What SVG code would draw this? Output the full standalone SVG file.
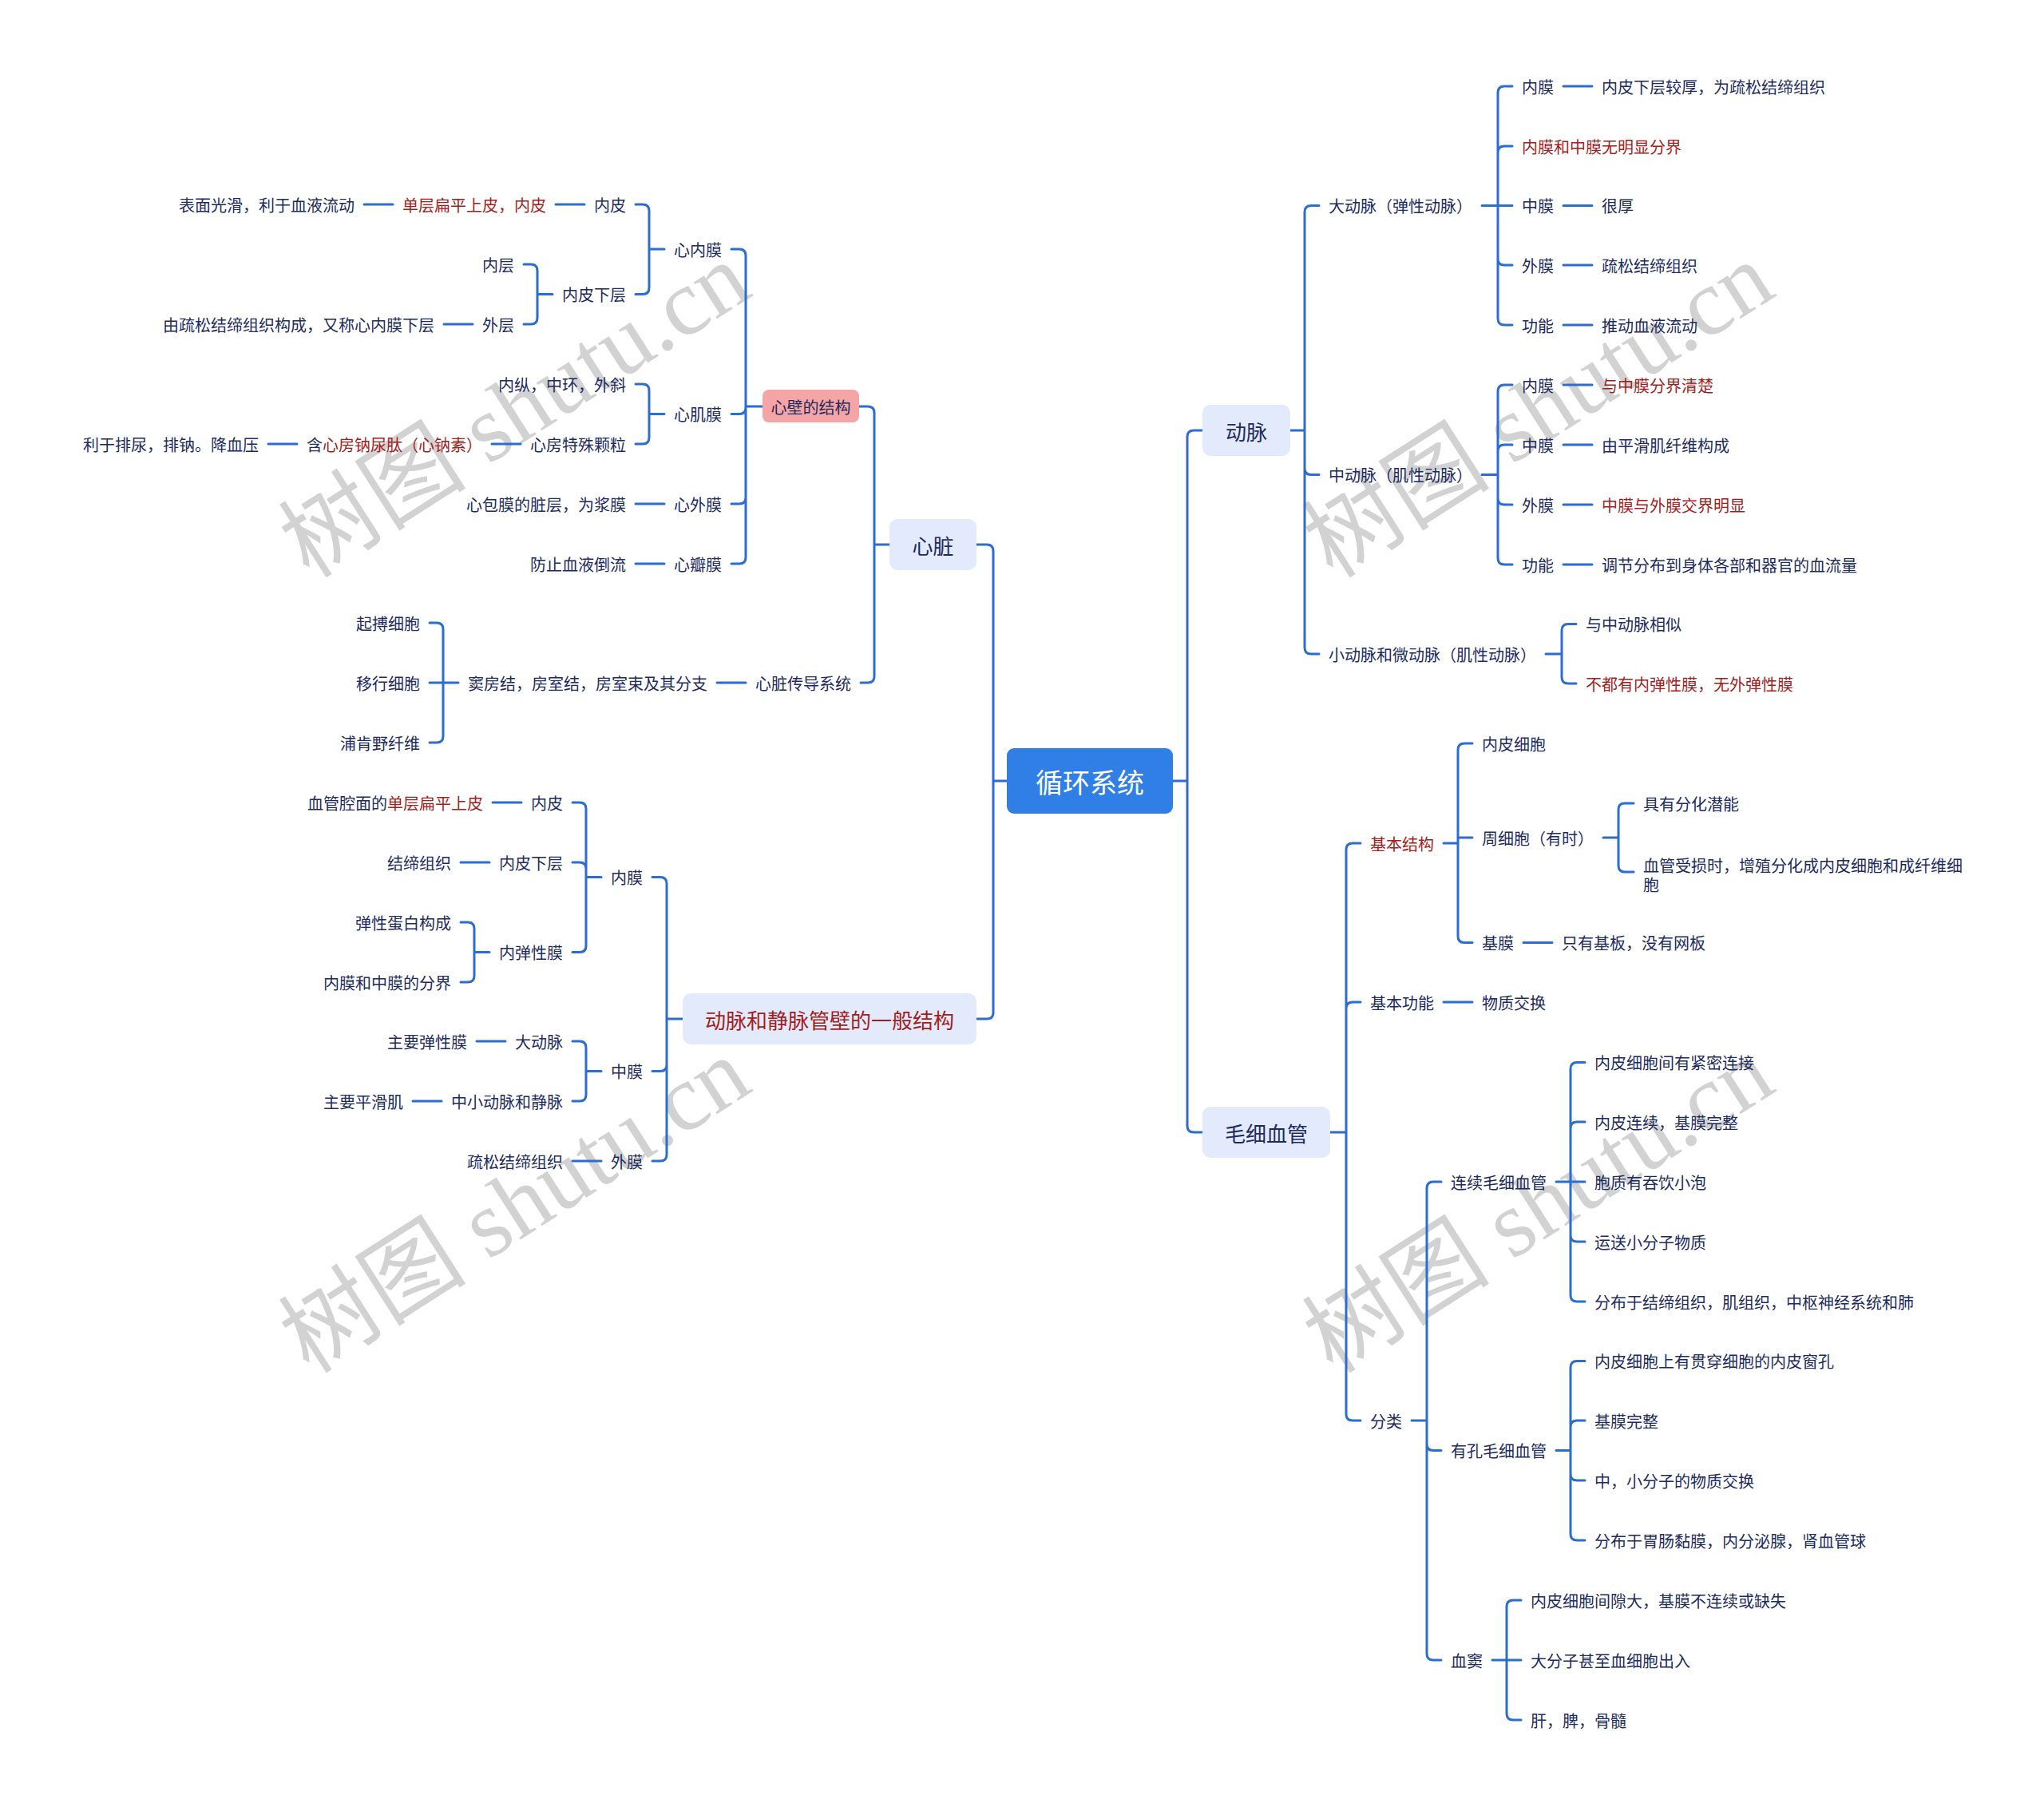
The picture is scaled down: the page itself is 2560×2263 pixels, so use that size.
<svg xmlns="http://www.w3.org/2000/svg" width="2560" height="2263" viewBox="0 0 2560 2263">
<style>
text{font-family:"Noto Sans CJK SC","Noto Sans",sans-serif;dominant-baseline:central}
.t{font-size:20px;fill:#1d2b5e}
.r{fill:#a31d1d}
.e{text-anchor:end}
.l1{font-size:26px;fill:#1d2b5e;text-anchor:middle}
.l1box{fill:#e2eafb}
.wm{font-family:"Liberation Serif","Noto Sans CJK SC",serif;font-size:118px;fill:#d2d2d2;text-anchor:middle}
.c path{fill:none;stroke:#2b6dd0;stroke-width:3;stroke-linecap:round}
</style>
<rect width="2560" height="2263" fill="#ffffff"/>
<g id="watermark">
<text class="wm" transform="translate(645,514) rotate(-32.6)">树图 shutu.cn</text>
<text class="wm" transform="translate(645,1510) rotate(-32.6)">树图 shutu.cn</text>
<text class="wm" transform="translate(1927,514) rotate(-32.6)">树图 shutu.cn</text>
<text class="wm" transform="translate(1927,1510) rotate(-32.6)">树图 shutu.cn</text>
</g>
<g id="connectors" class="c">
<path d="M1261,978 H1244 M1244,978 V690 Q1244,682 1236,682 H1223 M1244,978 V1268 Q1244,1276 1236,1276 H1223"/>
<path d="M1469,978 H1487 M1487,978 V547 Q1487,539 1495,539 H1506 M1487,978 V1410 Q1487,1418 1495,1418 H1506"/>
<path d="M1114,682 H1095 M1095,682 V517 Q1095,509 1087,509 H1076 M1095,682 V847 Q1095,855 1087,855 H1078"/>
<path d="M955,509 H934 M934,509 V320 Q934,312 926,312 H916 M934,509 V510.5 Q934,518.5 926,518.5 H916 M934,509 V623 Q934,631 926,631 H916 M934,509 V698 Q934,706 926,706 H916"/>
<path d="M832,312 H813 M813,312 V264 Q813,256 805,256 H796 M813,312 V360.5 Q813,368.5 805,368.5 H796"/>
<path d="M696,256 H732 M456,256 H492"/>
<path d="M692,368.5 H673 M673,368.5 V339 Q673,331 665,331 H656 M673,368.5 V398 Q673,406 665,406 H656 M556,406 H592"/>
<path d="M832,518.5 H813 M813,518.5 V489 Q813,481 805,481 H796 M813,518.5 V548 Q813,556 805,556 H796 M616,556 H652 M336,556 H372"/>
<path d="M796,631 H832 M796,706 H832 M898,855 H934"/>
<path d="M574,855 H538 M555,855 V788 Q555,780 547,780 H538 M555,855 V922 Q555,930 547,930 H538"/>
<path d="M855,1276 H835 M835,1276 V1106.5 Q835,1098.5 827,1098.5 H817 M835,1276 V1333.5 Q835,1341.5 827,1341.5 H817 M835,1276 V1446 Q835,1454 827,1454 H817"/>
<path d="M753,1098.5 H734 M734,1098.5 V1013 Q734,1005 726,1005 H717 M734,1098.5 V1088 Q734,1080 726,1080 H717 M734,1098.5 V1184.5 Q734,1192.5 726,1192.5 H717"/>
<path d="M617,1005 H653 M577,1080 H613"/>
<path d="M613,1192.5 H594 M594,1192.5 V1163 Q594,1155 586,1155 H577 M594,1192.5 V1222 Q594,1230 586,1230 H577"/>
<path d="M753,1341.5 H734 M734,1341.5 V1312 Q734,1304 726,1304 H717 M734,1341.5 V1371 Q734,1379 726,1379 H717 M597,1304 H633 M517,1379 H553 M717,1454 H753"/>
<path d="M1616,539 H1634 M1634,539 V265.5 Q1634,257.5 1642,257.5 H1652 M1634,539 V586.5 Q1634,594.5 1642,594.5 H1652 M1634,539 V811 Q1634,819 1642,819 H1652"/>
<path d="M1856,257.5 H1894 M1876,257.5 V116 Q1876,108 1884,108 H1894 M1876,257.5 V191 Q1876,183 1884,183 H1894 M1876,257.5 V324 Q1876,332 1884,332 H1894 M1876,257.5 V399 Q1876,407 1884,407 H1894"/>
<path d="M1958,108 H1994 M1958,257.5 H1994 M1958,332 H1994 M1958,407 H1994"/>
<path d="M1856,594.5 H1876 M1876,594.5 V490 Q1876,482 1884,482 H1894 M1876,594.5 V565 Q1876,557 1884,557 H1894 M1876,594.5 V624 Q1876,632 1884,632 H1894 M1876,594.5 V699 Q1876,707 1884,707 H1894"/>
<path d="M1958,482 H1994 M1958,557 H1994 M1958,632 H1994 M1958,707 H1994"/>
<path d="M1936,819 H1956 M1956,819 V789.5 Q1956,781.5 1964,781.5 H1974 M1956,819 V848 Q1956,856 1964,856 H1974"/>
<path d="M1666,1418 H1686 M1686,1418 V1064 Q1686,1056 1694,1056 H1704 M1686,1418 V1263 Q1686,1255 1694,1255 H1704 M1686,1418 V1771 Q1686,1779 1694,1779 H1704"/>
<path d="M1808,1056 H1826 M1826,1056 V939 Q1826,931 1834,931 H1844 M1826,1049 H1844 M1826,1056 V1172.5 Q1826,1180.5 1834,1180.5 H1844 M1908,1180.5 H1944"/>
<path d="M2008,1049 H2027 M2027,1049 V1014 Q2027,1006 2035,1006 H2046 M2027,1049 V1084 Q2027,1092 2035,1092 H2046"/>
<path d="M1808,1255 H1844"/>
<path d="M1768,1779 H1787 M1787,1779 V1488 Q1787,1480 1795,1480 H1805 M1787,1779 V1808.5 Q1787,1816.5 1795,1816.5 H1805 M1787,1779 V2071 Q1787,2079 1795,2079 H1805"/>
<path d="M1949,1480 H1985 M1967,1480 V1338.5 Q1967,1330.5 1975,1330.5 H1985 M1967,1480 V1413 Q1967,1405 1975,1405 H1985 M1967,1480 V1547 Q1967,1555 1975,1555 H1985 M1967,1480 V1622 Q1967,1630 1975,1630 H1985"/>
<path d="M1949,1816.5 H1967 M1967,1816.5 V1712.5 Q1967,1704.5 1975,1704.5 H1985 M1967,1816.5 V1787 Q1967,1779 1975,1779 H1985 M1967,1816.5 V1846 Q1967,1854 1975,1854 H1985 M1967,1816.5 V1921 Q1967,1929 1975,1929 H1985"/>
<path d="M1869,2079 H1905 M1887,2079 V2012 Q1887,2004 1895,2004 H1905 M1887,2079 V2146 Q1887,2154 1895,2154 H1905"/>
</g>
<g id="n-root"><rect x="1261" y="937" width="208" height="82" rx="9" fill="#2f7fe6"/><text x="1365" y="978" font-size="34" fill="#ffffff" text-anchor="middle">循环系统</text></g>
<g id="n-heart"><rect class="l1box" x="1114" y="650" width="109" height="64" rx="10"/><text class="l1" x="1168.5" y="682">心脏</text></g>
<g id="n-vessel"><rect class="l1box" x="855" y="1244" width="368" height="64" rx="10"/><text class="l1" x="1039" y="1276" fill="#a31d1d" style="fill:#a31d1d">动脉和静脉管壁的一般结构</text></g>
<g id="n-artery"><rect class="l1box" x="1506" y="507" width="110" height="64" rx="10"/><text class="l1" x="1561" y="539">动脉</text></g>
<g id="n-capillary"><rect class="l1box" x="1506" y="1386" width="160" height="64" rx="10"/><text class="l1" x="1586" y="1418">毛细血管</text></g>
<g id="n-wall"><rect x="955" y="488" width="121" height="41" rx="8" fill="#f5a5a5"/><text class="t" x="1015.5" y="509" text-anchor="middle">心壁的结构</text></g>
<g id="n-conduct"><text class="t e" x="1066" y="855">心脏传导系统</text></g>
<g id="n-endocard"><text class="t e" x="904" y="312">心内膜</text></g>
<g id="n-myocard"><text class="t e" x="904" y="518.5">心肌膜</text></g>
<g id="n-epicard"><text class="t e" x="904" y="631">心外膜</text></g>
<g id="n-valve"><text class="t e" x="904" y="706">心瓣膜</text></g>
<g id="n-ec1"><text class="t e" x="784" y="256">内皮</text></g>
<g id="n-ec1a"><text class="t e r" x="684" y="256">单层扁平上皮，内皮</text></g>
<g id="n-ec1b"><text class="t e" x="444" y="256">表面光滑，利于血液流动</text></g>
<g id="n-sub1"><text class="t e" x="784" y="368.5">内皮下层</text></g>
<g id="n-sub1a"><text class="t e" x="644" y="331">内层</text></g>
<g id="n-sub1b"><text class="t e" x="644" y="406">外层</text></g>
<g id="n-sub1c"><text class="t e" x="544" y="406">由疏松结缔组织构成，又称心内膜下层</text></g>
<g id="n-my1"><text class="t e" x="784" y="481">内纵，中环，外斜</text></g>
<g id="n-my2"><text class="t e" x="784" y="556">心房特殊颗粒</text></g>
<g id="n-my2a"><text class="t e" x="604" y="556">含<tspan class="r">心房钠尿肽（心钠素）</tspan></text></g>
<g id="n-my2b"><text class="t e" x="324" y="556">利于排尿，排钠。降血压</text></g>
<g id="n-ep1"><text class="t e" x="784" y="631">心包膜的脏层，为浆膜</text></g>
<g id="n-va1"><text class="t e" x="784" y="706">防止血液倒流</text></g>
<g id="n-co1"><text class="t e" x="886" y="855">窦房结，房室结，房室束及其分支</text></g>
<g id="n-co1a"><text class="t e" x="526" y="780">起搏细胞</text></g>
<g id="n-co1b"><text class="t e" x="526" y="855">移行细胞</text></g>
<g id="n-co1c"><text class="t e" x="526" y="930">浦肯野纤维</text></g>
<g id="n-vi"><text class="t e" x="805" y="1098.5">内膜</text></g>
<g id="n-vm"><text class="t e" x="805" y="1341.5">中膜</text></g>
<g id="n-va"><text class="t e" x="805" y="1454">外膜</text></g>
<g id="n-vi1"><text class="t e" x="705" y="1005">内皮</text></g>
<g id="n-vi1a"><text class="t e" x="605" y="1005">血管腔面的<tspan class="r">单层扁平上皮</tspan></text></g>
<g id="n-vi2"><text class="t e" x="705" y="1080">内皮下层</text></g>
<g id="n-vi2a"><text class="t e" x="565" y="1080">结缔组织</text></g>
<g id="n-vi3"><text class="t e" x="705" y="1192.5">内弹性膜</text></g>
<g id="n-vi3a"><text class="t e" x="565" y="1155">弹性蛋白构成</text></g>
<g id="n-vi3b"><text class="t e" x="565" y="1230">内膜和中膜的分界</text></g>
<g id="n-vm1"><text class="t e" x="705" y="1304">大动脉</text></g>
<g id="n-vm1a"><text class="t e" x="585" y="1304">主要弹性膜</text></g>
<g id="n-vm2"><text class="t e" x="705" y="1379">中小动脉和静脉</text></g>
<g id="n-vm2a"><text class="t e" x="505" y="1379">主要平滑肌</text></g>
<g id="n-va1b"><text class="t e" x="705" y="1454">疏松结缔组织</text></g>
<g id="n-la"><text class="t" x="1664" y="257.5">大动脉（弹性动脉）</text></g>
<g id="n-la1"><text class="t" x="1906" y="108">内膜</text><text class="t" x="2006" y="108">内皮下层较厚，为疏松结缔组织</text></g>
<g id="n-la2"><text class="t r" x="1906" y="183">内膜和中膜无明显分界</text></g>
<g id="n-la3"><text class="t" x="1906" y="257.5">中膜</text><text class="t" x="2006" y="257.5">很厚</text></g>
<g id="n-la4"><text class="t" x="1906" y="332">外膜</text><text class="t" x="2006" y="332">疏松结缔组织</text></g>
<g id="n-la5"><text class="t" x="1906" y="407">功能</text><text class="t" x="2006" y="407">推动血液流动</text></g>
<g id="n-ma"><text class="t" x="1664" y="594.5">中动脉（肌性动脉）</text></g>
<g id="n-ma1"><text class="t" x="1906" y="482">内膜</text><text class="t r" x="2006" y="482">与中膜分界清楚</text></g>
<g id="n-ma2"><text class="t" x="1906" y="557">中膜</text><text class="t" x="2006" y="557">由平滑肌纤维构成</text></g>
<g id="n-ma3"><text class="t" x="1906" y="632">外膜</text><text class="t r" x="2006" y="632">中膜与外膜交界明显</text></g>
<g id="n-ma4"><text class="t" x="1906" y="707">功能</text><text class="t" x="2006" y="707">调节分布到身体各部和器官的血流量</text></g>
<g id="n-sa"><text class="t" x="1664" y="819">小动脉和微动脉（肌性动脉）</text></g>
<g id="n-sa1"><text class="t" x="1986" y="781.5">与中动脉相似</text></g>
<g id="n-sa2"><text class="t r" x="1986" y="856">不都有内弹性膜，无外弹性膜</text></g>
<g id="n-cs"><text class="t r" x="1716" y="1056">基本结构</text></g>
<g id="n-cs1"><text class="t" x="1856" y="931">内皮细胞</text></g>
<g id="n-cs2"><text class="t" x="1856" y="1049">周细胞（有时）</text></g>
<g id="n-cs2a"><text class="t" x="2058" y="1006">具有分化潜能</text></g>
<g id="n-cs2b"><text class="t" x="2058" y="1083">血管受损时，增殖分化成内皮细胞和成纤维细<tspan x="2058" y="1107">胞</tspan></text></g>
<g id="n-cs3"><text class="t" x="1856" y="1180.5">基膜</text><text class="t" x="1956" y="1180.5">只有基板，没有网板</text></g>
<g id="n-cf"><text class="t" x="1716" y="1255">基本功能</text><text class="t" x="1856" y="1255">物质交换</text></g>
<g id="n-cc"><text class="t" x="1716" y="1779">分类</text></g>
<g id="n-cc1"><text class="t" x="1817" y="1480">连续毛细血管</text></g>
<g id="n-cc1a"><text class="t" x="1997" y="1330.5">内皮细胞间有紧密连接</text></g>
<g id="n-cc1b"><text class="t" x="1997" y="1405">内皮连续，基膜完整</text></g>
<g id="n-cc1c"><text class="t" x="1997" y="1480">胞质有吞饮小泡</text></g>
<g id="n-cc1d"><text class="t" x="1997" y="1555">运送小分子物质</text></g>
<g id="n-cc1e"><text class="t" x="1997" y="1630">分布于结缔组织，肌组织，中枢神经系统和肺</text></g>
<g id="n-cc2"><text class="t" x="1817" y="1816.5">有孔毛细血管</text></g>
<g id="n-cc2a"><text class="t" x="1997" y="1704.5">内皮细胞上有贯穿细胞的内皮窗孔</text></g>
<g id="n-cc2b"><text class="t" x="1997" y="1779">基膜完整</text></g>
<g id="n-cc2c"><text class="t" x="1997" y="1854">中，小分子的物质交换</text></g>
<g id="n-cc2d"><text class="t" x="1997" y="1929">分布于胃肠黏膜，内分泌腺，肾血管球</text></g>
<g id="n-cc3"><text class="t" x="1817" y="2079">血窦</text></g>
<g id="n-cc3a"><text class="t" x="1917" y="2004">内皮细胞间隙大，基膜不连续或缺失</text></g>
<g id="n-cc3b"><text class="t" x="1917" y="2079">大分子甚至血细胞出入</text></g>
<g id="n-cc3c"><text class="t" x="1917" y="2154">肝，脾，骨髓</text></g>
</svg>
